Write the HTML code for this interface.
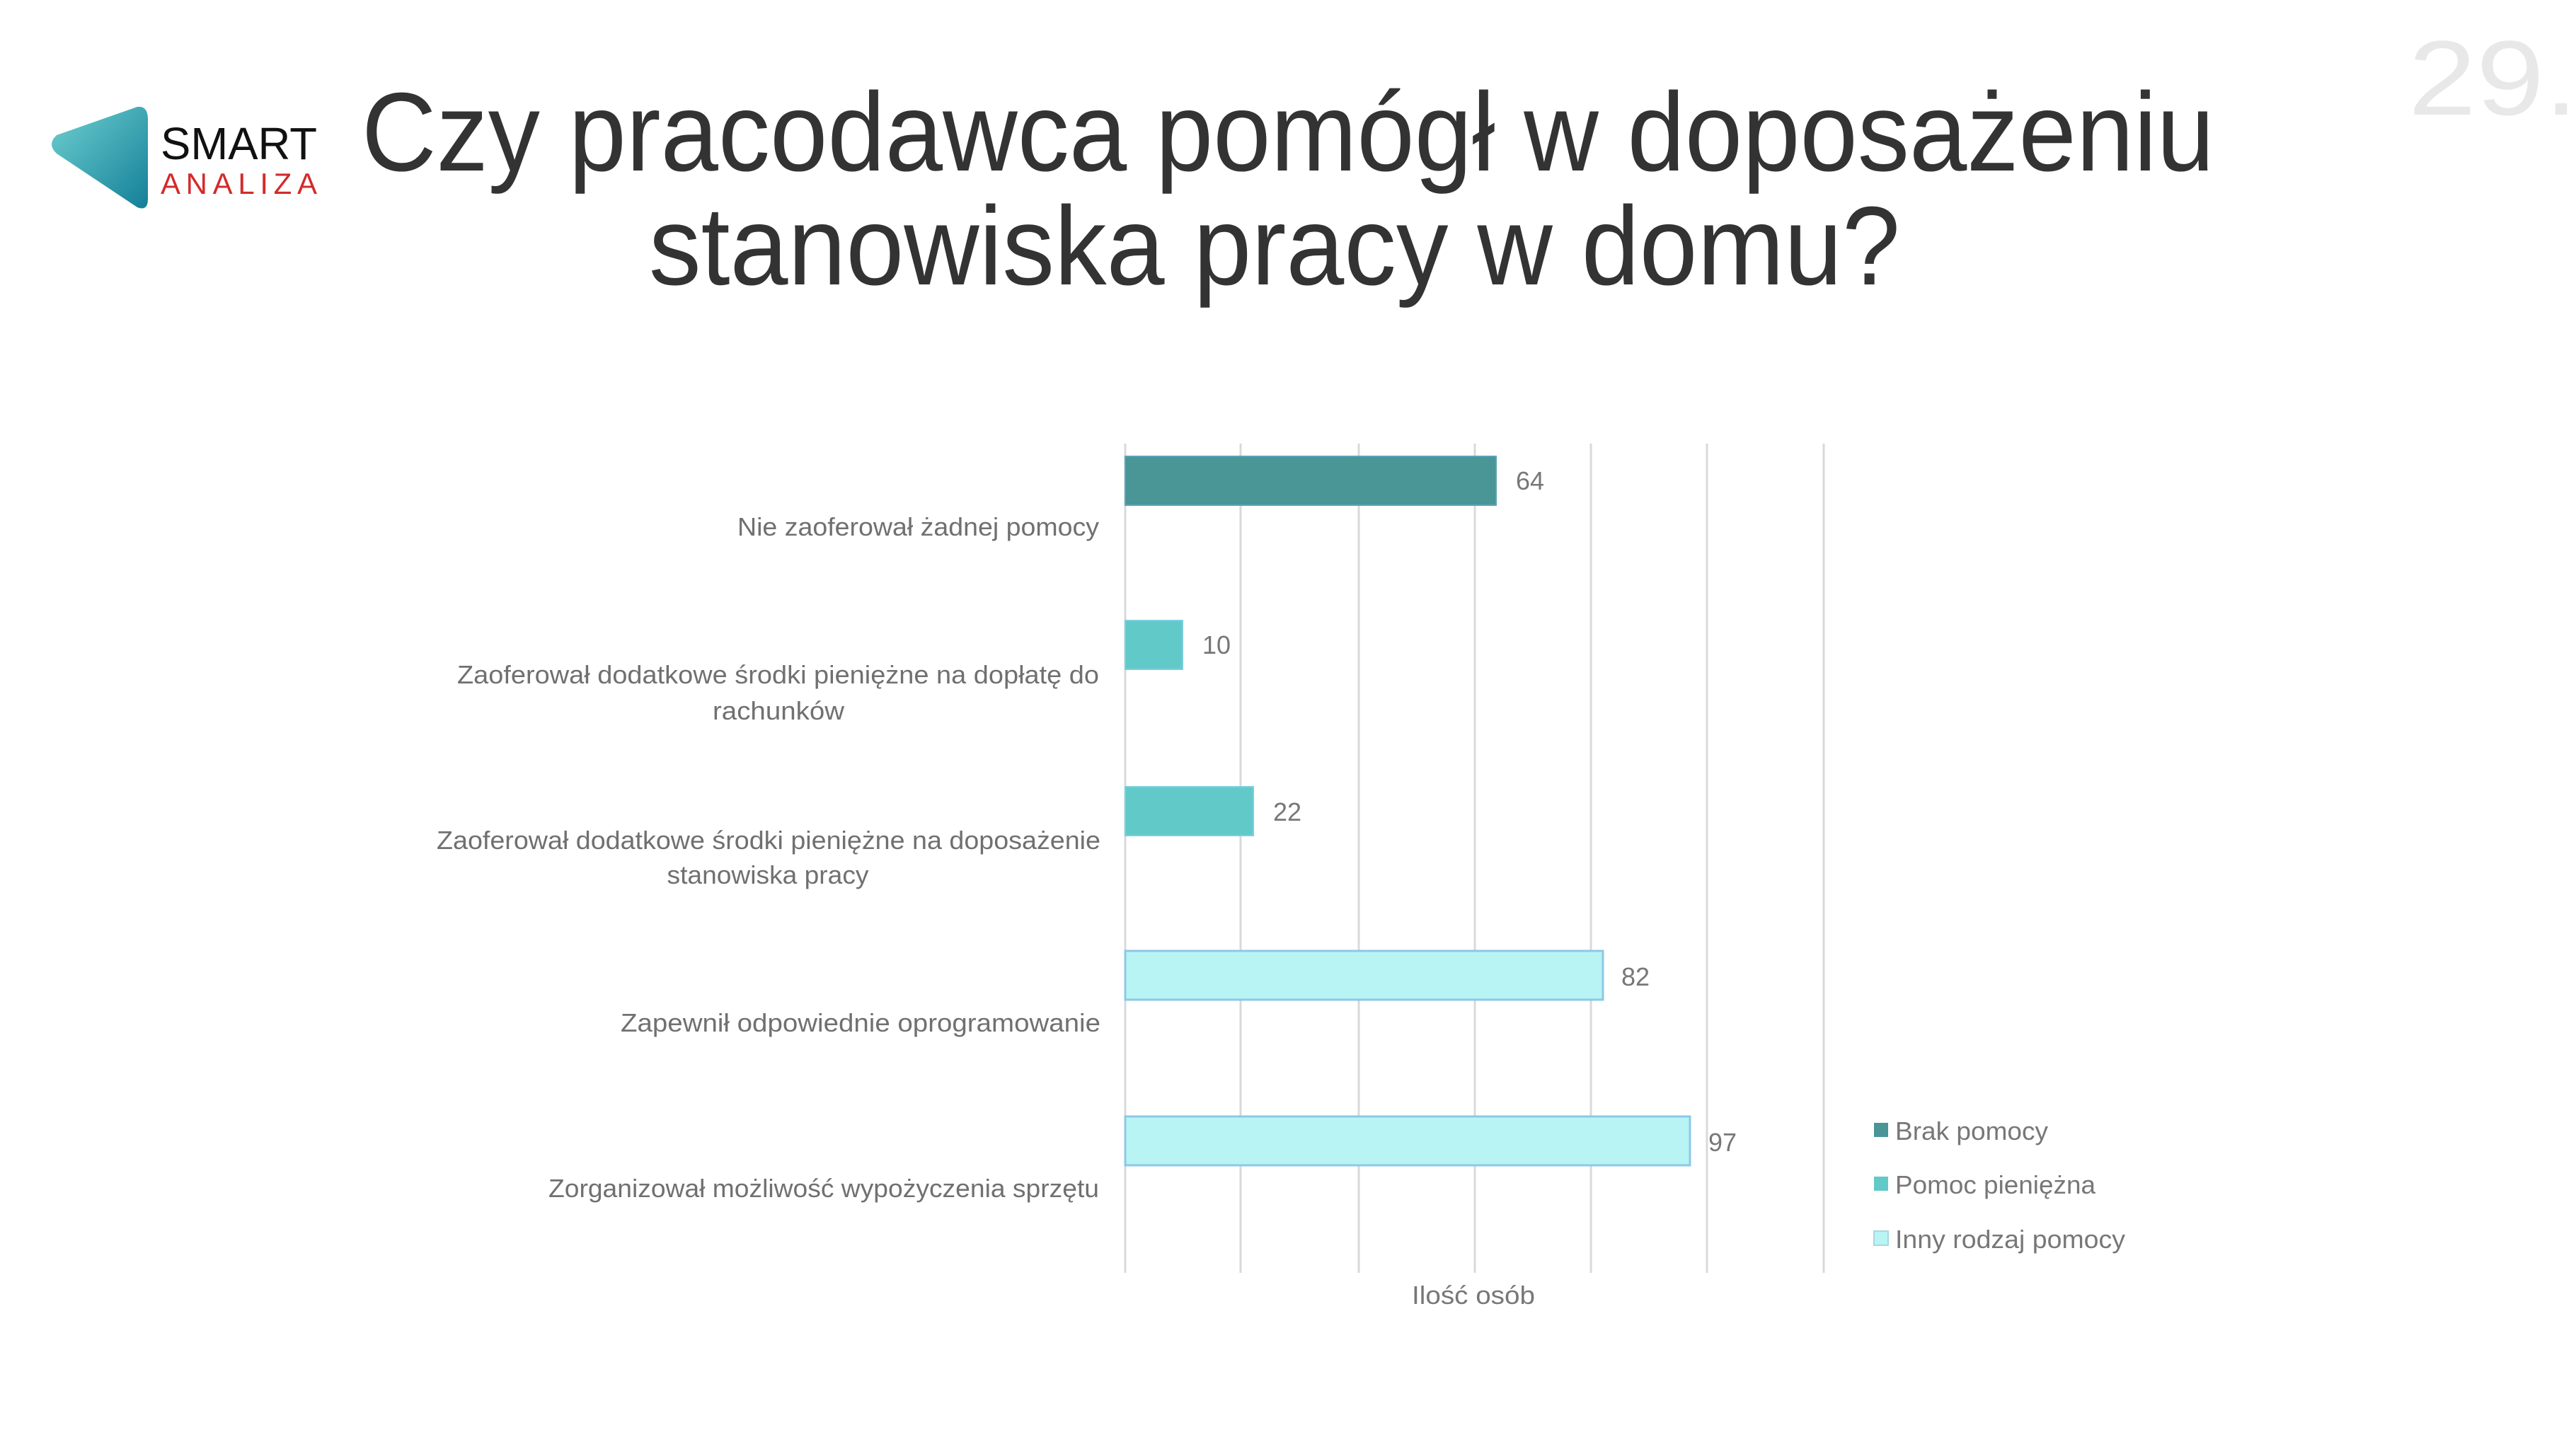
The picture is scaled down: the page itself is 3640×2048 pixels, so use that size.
<!DOCTYPE html>
<html><head><meta charset="utf-8"><style>
html,body{margin:0;padding:0;background:#fff;}
svg{display:block;}
</style></head><body>
<svg width="3640" height="2048" viewBox="0 0 3640 2048" xmlns="http://www.w3.org/2000/svg" font-family="Liberation Sans, DejaVu Sans, sans-serif">
<defs>
<linearGradient id="lg" x1="0" y1="0" x2="1" y2="1">
<stop offset="0" stop-color="#6fd0d0"/><stop offset="1" stop-color="#137f98"/>
</linearGradient>
</defs>
<rect width="3640" height="2048" fill="#fff"/>
<!-- logo -->
<path d="M194 151 Q209 149 209 169 L209 281 Q209 299 194 293 L80 217 Q66 204 80 191 Z" fill="url(#lg)"/>
<text x="227" y="225" font-size="64" fill="#111" textLength="221" lengthAdjust="spacingAndGlyphs">SMART</text>
<text x="227" y="274" font-size="42" fill="#d42a2a" textLength="221" lengthAdjust="spacing">ANALIZA</text>
<!-- title -->
<text x="1820" y="241" font-size="158" fill="#333" text-anchor="middle" textLength="2618" lengthAdjust="spacingAndGlyphs">Czy pracodawca pomógł w doposażeniu</text>
<text x="1801" y="402" font-size="158" fill="#333" text-anchor="middle" textLength="1768" lengthAdjust="spacingAndGlyphs">stanowiska pracy w domu?</text>
<text x="3403" y="162" font-size="150" fill="#e8e8e8" textLength="240" lengthAdjust="spacingAndGlyphs">29.</text>
<!-- grid -->
<g stroke="#d9d9d9" stroke-width="3">
<line x1="1590" y1="627" x2="1590" y2="1799"/>
<line x1="1753" y1="627" x2="1753" y2="1799"/>
<line x1="1920" y1="627" x2="1920" y2="1799"/>
<line x1="2084" y1="627" x2="2084" y2="1799"/>
<line x1="2248" y1="627" x2="2248" y2="1799"/>
<line x1="2412" y1="627" x2="2412" y2="1799"/>
<line x1="2577" y1="627" x2="2577" y2="1799"/>
</g>
<!-- bars -->
<rect x="1590" y="645" width="524" height="69" fill="#4a9595" stroke="#5aa3b8" stroke-width="2"/>
<rect x="1590" y="877" width="81" height="69" fill="#62c9c9" stroke="#7ccfe0" stroke-width="2"/>
<rect x="1590" y="1112" width="181" height="69" fill="#62c9c9" stroke="#7ccfe0" stroke-width="2"/>
<rect x="1590" y="1344" width="675" height="69" fill="#b8f4f4" stroke="#8cc8e6" stroke-width="3"/>
<rect x="1590" y="1578" width="798" height="69" fill="#b8f4f4" stroke="#8cc8e6" stroke-width="3"/>
<g font-size="36" fill="#777">
<text x="2142" y="692">64</text>
<text x="1699" y="924">10</text>
<text x="1799" y="1160">22</text>
<text x="2291" y="1393">82</text>
<text x="2414" y="1627">97</text>
</g>
<!-- category labels -->
<g font-size="36" fill="#707070" text-anchor="end" lengthAdjust="spacingAndGlyphs">
<text x="1553" y="757" textLength="511" lengthAdjust="spacingAndGlyphs">Nie zaoferował żadnej pomocy</text>
<text x="1553" y="966" textLength="907" lengthAdjust="spacingAndGlyphs">Zaoferował dodatkowe środki pieniężne na dopłatę do</text>
<text x="1100" y="1017" text-anchor="middle" textLength="186" lengthAdjust="spacingAndGlyphs">rachunków</text>
<text x="1555" y="1200" textLength="938" lengthAdjust="spacingAndGlyphs">Zaoferował dodatkowe środki pieniężne na doposażenie</text>
<text x="1085" y="1249" text-anchor="middle" textLength="285" lengthAdjust="spacingAndGlyphs">stanowiska pracy</text>
<text x="1555" y="1458" textLength="678" lengthAdjust="spacingAndGlyphs">Zapewnił odpowiednie oprogramowanie</text>
<text x="1553" y="1692" textLength="778" lengthAdjust="spacingAndGlyphs">Zorganizował możliwość wypożyczenia sprzętu</text>
</g>
<text x="2082" y="1843" font-size="36" fill="#777" text-anchor="middle" textLength="174" lengthAdjust="spacingAndGlyphs">Ilość osób</text>
<!-- legend -->
<rect x="2648" y="1587" width="20" height="20" fill="#4a9595"/>
<rect x="2648" y="1663" width="20" height="20" fill="#62c9c9"/>
<rect x="2648" y="1740" width="20" height="20" fill="#b8f4f4" stroke="#a8d8e0" stroke-width="2"/>
<g font-size="36" fill="#777">
<text x="2678" y="1611" textLength="216" lengthAdjust="spacingAndGlyphs">Brak pomocy</text>
<text x="2678" y="1687" textLength="283" lengthAdjust="spacingAndGlyphs">Pomoc pieniężna</text>
<text x="2678" y="1764" textLength="325" lengthAdjust="spacingAndGlyphs">Inny rodzaj pomocy</text>
</g>
</svg>
</body></html>
